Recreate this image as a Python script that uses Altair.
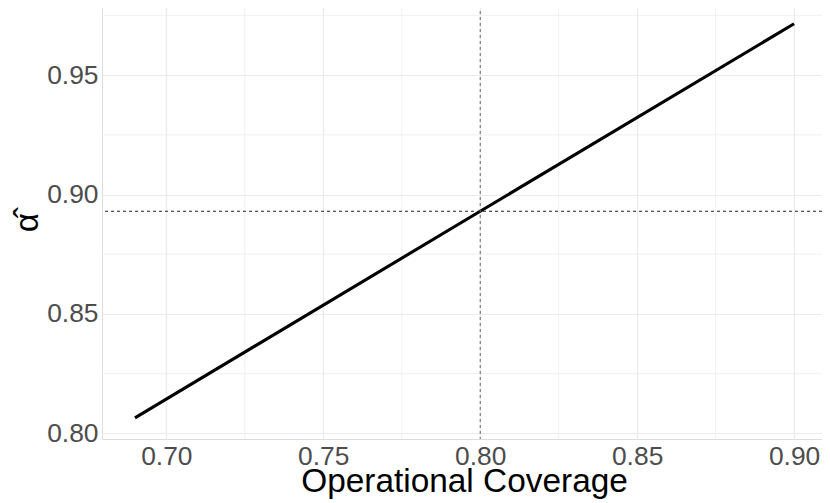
import altair as alt
import pandas as pd

coverage = [0.69, 0.80, 0.90]
alpha_hat = [0.8065, 0.893, 0.9715]
x_ticks = [0.70, 0.75, 0.80, 0.85, 0.90]
y_ticks = [0.80, 0.85, 0.90, 0.95]
x_minor = [0.725, 0.775, 0.825, 0.875]
y_minor = [0.825, 0.875, 0.925, 0.975]
v_ref = [0.80]
h_ref = [0.893]
x_domain = [0.6795, 0.9089]
y_domain = [0.79765, 0.97935]

FONT = "Liberation Sans"
W, H = 720, 434

xs = alt.Scale(domain=x_domain, nice=False, zero=False)
ys = alt.Scale(domain=y_domain, nice=False, zero=False)

line_df = pd.DataFrame({"x": coverage, "y": alpha_hat})
xminor_df = pd.DataFrame({"x": x_minor})
yminor_df = pd.DataFrame({"y": y_minor})
v_df = pd.DataFrame({"x": v_ref})
h_df = pd.DataFrame({"y": h_ref})

x_axis = alt.Axis(
    values=x_ticks, format=".2f", title="Operational Coverage",
    grid=True, gridColor="#EBEBEB", gridWidth=1.2,
    domain=False, ticks=False,
    labelFont=FONT, labelFontSize=26.4, labelColor="#4D4D4D", labelPadding=4,
    titleFont=FONT, titleFontSize=33.4, titleColor="black", titleFontWeight="normal",
    titleX=(464 - 102), titleY=52, titleBaseline="alphabetic", titleAlign="center",
)
y_axis = alt.Axis(
    values=y_ticks, format=".2f", title="α̂",
    grid=True, gridColor="#EBEBEB", gridWidth=1.2,
    domain=False, ticks=False,
    labelFont=FONT, labelFontSize=26.4, labelColor="#4D4D4D", labelPadding=4,
    titleFont=FONT, titleFontSize=33.4, titleColor="black", titleFontWeight="normal",
    titleX=-64.5, titleY=H / 2, titleBaseline="alphabetic", titleAlign="center",
    titleAngle=-90,
)

minor_x = alt.Chart(xminor_df).mark_rule(color="#EBEBEB", strokeWidth=0.7).encode(
    x=alt.X("x:Q", scale=xs)
)
minor_y = alt.Chart(yminor_df).mark_rule(color="#EBEBEB", strokeWidth=0.7).encode(
    y=alt.Y("y:Q", scale=ys)
)
line = alt.Chart(line_df).mark_line(color="black", strokeWidth=3.1).encode(
    x=alt.X("x:Q", scale=xs, axis=x_axis),
    y=alt.Y("y:Q", scale=ys, axis=y_axis),
)
vline = alt.Chart(v_df).mark_rule(color="#666666", strokeWidth=1, strokeDash=[3, 3]).encode(
    x=alt.X("x:Q", scale=xs)
)
hline = alt.Chart(h_df).mark_rule(color="#222222", strokeWidth=1, strokeDash=[3, 3]).encode(
    y=alt.Y("y:Q", scale=ys)
)

chart = alt.layer(minor_x, minor_y, line, vline, hline).properties(
    width=W, height=H,
    autosize=alt.AutoSizeParams(type="none"),
    padding={"left": 94, "top": -3, "right": 0, "bottom": 64},
).configure_view(stroke=None).configure(background="white")

chart.save("out.html", embed_options={"renderer": "svg", "actions": False})
